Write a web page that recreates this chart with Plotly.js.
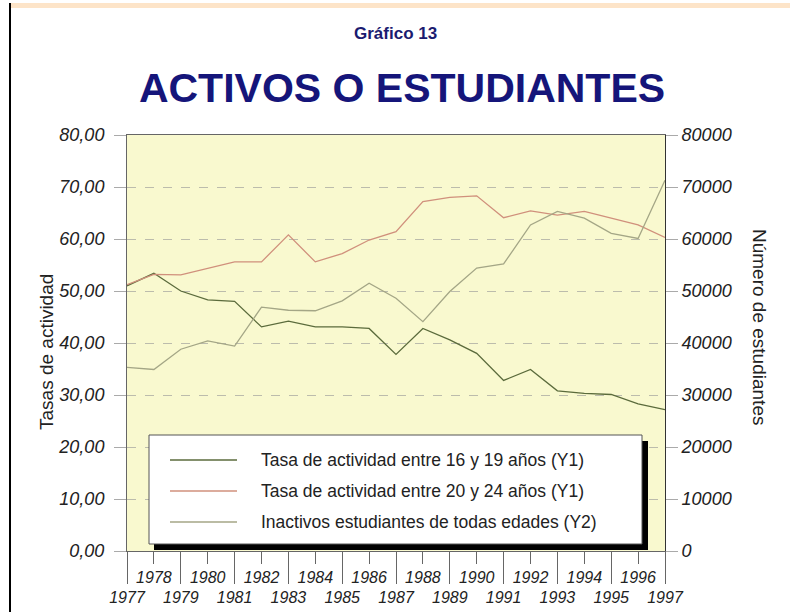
<!DOCTYPE html>
<html>
<head>
<meta charset="utf-8">
<script src="https://cdn.plot.ly/plotly-3.0.1.min.js"></script>
<style>
  html, body { margin: 0; padding: 0; background: #ffffff; }
  #chart { width: 790px; height: 612px; }
</style>
</head>
<body>
<div id="chart"></div>
<script>
// años del eje X
var years = [1977, 1978, 1979, 1980, 1981, 1982, 1983, 1984, 1985, 1986,
             1987, 1988, 1989, 1990, 1991, 1992, 1993, 1994, 1995, 1996, 1997];

// tasa de actividad 16-19 (Y1)
var tasa16_19 = [51.0, 53.4, 50.0, 48.3, 48.0, 43.1, 44.2, 43.1, 43.1, 42.8,
                 37.8, 42.8, 40.6, 38.0, 32.8, 34.9, 30.8, 30.3, 30.1, 28.3, 27.2];

// tasa de actividad 20-24 (Y1)
var tasa20_24 = [51.2, 53.2, 53.1, 54.4, 55.6, 55.6, 60.8, 55.6, 57.2, 59.8,
                 61.4, 67.2, 68.0, 68.3, 64.1, 65.4, 64.6, 65.3, 64.0, 62.7, 60.3];

// inactivos estudiantes (Y2)
var estudiantes = [35300, 34900, 38800, 40400, 39400, 46900, 46300, 46200, 48100, 51500,
                   48600, 44100, 49900, 54400, 55200, 62700, 65300, 64000, 61100, 60100, 71300];

var names = ['Tasa de actividad entre 16 y 19 años (Y1)',
             'Tasa de actividad entre 20 y 24 años (Y1)',
             'Inactivos estudiantes de todas edades (Y2)'];
var colors = ['#5b6b3c', '#d0907c', '#a4a686'];

var oddYears = years.filter(function (y) { return y % 2 === 1; });
var evenYears = years.filter(function (y) { return y % 2 === 0; });

var sans = '"Liberation Sans", Arial, sans-serif';

var data = [
  { x: years, y: tasa16_19, type: 'scatter', mode: 'lines', name: names[0],
    line: { color: colors[0], width: 1.3 }, xaxis: 'x', yaxis: 'y' },
  { x: years, y: tasa20_24, type: 'scatter', mode: 'lines', name: names[1],
    line: { color: colors[1], width: 1.3 }, xaxis: 'x', yaxis: 'y' },
  { x: years, y: estudiantes, type: 'scatter', mode: 'lines', name: names[2],
    line: { color: colors[2], width: 1.3 }, xaxis: 'x', yaxis: 'y2' }
];

// pixel -> paper coords
function px(x) { return (x - 127) / 538; }
function py(y) { return (551 - y) / 416; }

var shapes = [
  // franja naranja arriba y línea negra izquierda
  { type: 'rect', xref: 'paper', yref: 'paper', x0: px(9), x1: px(792), y0: py(8), y1: py(3),
    fillcolor: '#fde4c8', line: { width: 0 }, layer: 'below' },
  { type: 'line', xref: 'paper', yref: 'paper', x0: px(10), x1: px(10), y0: py(614), y1: py(3),
    line: { color: '#000000', width: 2 } },
  // leyenda: sombra y caja
  { type: 'rect', xref: 'paper', yref: 'paper', x0: px(154), x1: px(648), y0: py(550), y1: py(441),
    fillcolor: '#000000', line: { width: 0 }, layer: 'above' },
  { type: 'rect', xref: 'paper', yref: 'paper', x0: px(149), x1: px(642), y0: py(544), y1: py(435),
    fillcolor: '#ffffff', line: { color: '#555555', width: 1 }, layer: 'above' }
];

var rowsY = [460, 491, 522];
var annotations = [
  { text: '<b>Gráfico 13</b>', xref: 'paper', yref: 'paper', x: px(395), y: py(33),
    xanchor: 'center', yanchor: 'middle',
    showarrow: false, font: { family: sans, size: 17, color: '#1b1b70' } },
  { text: 'Tasas de actividad', xref: 'paper', yref: 'paper', x: px(46), y: py(352),
    xanchor: 'center', yanchor: 'middle',
    textangle: -90, showarrow: false, font: { family: sans, size: 19, color: '#222222' } },
  { text: 'Número de estudiantes', xref: 'paper', yref: 'paper', x: px(760), y: py(327),
    xanchor: 'center', yanchor: 'middle',
    textangle: 90, showarrow: false, font: { family: sans, size: 19, color: '#222222' } }
];
for (var i = 0; i < names.length; i++) {
  shapes.push({ type: 'line', xref: 'paper', yref: 'paper', x0: px(170), x1: px(237),
    y0: py(rowsY[i]), y1: py(rowsY[i]), line: { color: colors[i], width: 1.3 }, layer: 'above' });
  annotations.push({ text: names[i], xref: 'paper', yref: 'paper', x: px(259), y: py(rowsY[i]),
    xanchor: 'left', yanchor: 'middle', showarrow: false,
    font: { family: sans, size: 17.5, color: '#222222' } });
}

var xTickFont = { family: sans, size: 16, color: '#222222', style: 'italic' };
var yTickFont = { family: sans, size: 18, color: '#222222', style: 'italic' };

var layout = {
  width: 790, height: 612,
  margin: { l: 127, r: 125, t: 135, b: 61, pad: 0 },
  paper_bgcolor: '#ffffff',
  plot_bgcolor: '#f9f9cf',
  separators: ',.',
  showlegend: false,
  title: { text: '<b>ACTIVOS O ESTUDIANTES</b>', xref: 'paper', yref: 'container',
    x: px(402), y: 1 - 88 / 612, xanchor: 'center', yanchor: 'middle',
    font: { family: sans, size: 41, color: '#15157a' } },
  xaxis: {
    range: [1977, 1997], tickvals: oddYears, ticktext: oddYears.map(String),
    ticks: 'outside', ticklen: 32, tickcolor: '#666666', tickwidth: 1,
    showgrid: false, zeroline: false, showline: true, mirror: true,
    linecolor: '#666666', linewidth: 1, tickfont: xTickFont
  },
  xaxis2: {
    range: [1977, 1997], overlaying: 'x', anchor: 'y', side: 'bottom',
    tickvals: evenYears, ticktext: evenYears.map(String),
    ticks: 'outside', ticklen: 12, tickcolor: '#666666', tickwidth: 1,
    showgrid: false, zeroline: false, showline: false, tickfont: xTickFont
  },
  yaxis: {
    range: [0, 80], dtick: 10, tickformat: '.2f',
    ticks: 'outside', ticklen: 12, tickcolor: '#aaaaaa', ticklabelstandoff: 6,
    showgrid: true, gridcolor: '#bcbcac', griddash: 'dash', gridwidth: 1,
    zeroline: false, showline: true, linecolor: '#666666', linewidth: 1,
    tickfont: yTickFont
  },
  yaxis2: {
    range: [0, 80000], dtick: 10000, tickformat: 'd', overlaying: 'y', side: 'right',
    ticks: 'outside', ticklen: 12, tickcolor: '#aaaaaa',
    showgrid: false, zeroline: false, showline: true, linecolor: '#333333', linewidth: 1,
    tickfont: yTickFont
  },
  shapes: shapes,
  annotations: annotations
};

// trace vacía para que se dibuje el eje x2
data.push({ x: [1977], y: [null], xaxis: 'x2', yaxis: 'y', type: 'scatter', mode: 'lines',
  showlegend: false, hoverinfo: 'skip' });

Plotly.newPlot('chart', data, layout, { displayModeBar: false, staticPlot: true });
</script>
</body>
</html>
